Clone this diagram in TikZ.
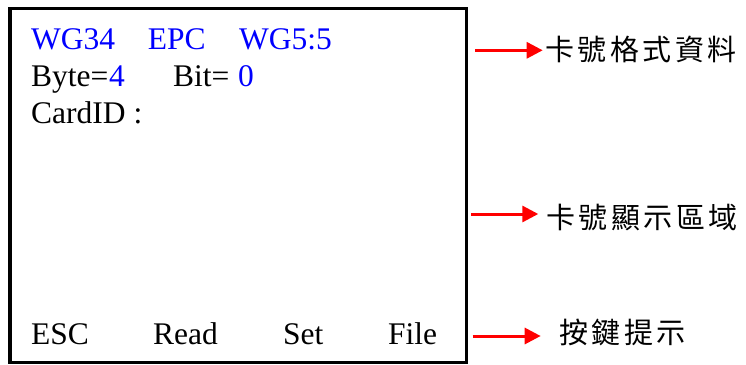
\documentclass[tikz,border=0pt]{standalone}
\usepackage{fontspec}
\setmainfont{Liberation Serif}
\newfontfamily\cjkwide[LetterSpace=12]{Noto Sans CJK TC}
\usetikzlibrary{arrows.meta}
\definecolor{lcdblue}{RGB}{0,0,255}
\definecolor{arrowred}{RGB}{255,0,0}
\tikzset{
  screen/.style={draw=black,line width=3.2pt,fill=white,outer sep=0pt},
  lcd/.style={anchor=base west,inner sep=0pt,font=\fontsize{31.5}{31.5}\selectfont},
  lcdb/.style={lcd,text=lcdblue},
  note/.style={anchor=base west,inner sep=0pt,font=\fontsize{29}{29}\selectfont\cjkwide},
  pointer/.style={draw=arrowred,line width=3pt,-{Triangle[length=16pt,width=16pt,fill=arrowred]}}
}
\begin{document}
\begin{tikzpicture}[x=1pt,y=-1pt]
\useasboundingbox (0,0) rectangle (746,364);
\node[screen,minimum width=456.5pt,minimum height=353.8pt,anchor=north west,inner sep=0pt] (screen) at (10,8.5) {};
\node[lcdb] (t1) at (31,49.3) {WG34};
\node[lcdb] (t2) at (147.7,49.3) {EPC};
\node[lcdb] (t3) at (239,49.3) {WG5:5};
\node[lcd] (t4) at (31,86) {Byte=};
\node[lcdb] (t5) at (109,86) {4};
\node[lcd] (t6) at (173,86) {Bit=};
\node[lcdb] (t7) at (238,86) {0};
\node[lcd] (t8) at (31,123) {CardID :};
\node[lcd] (k1) at (31,344) {ESC};
\node[lcd] (k2) at (153,344) {Read};
\node[lcd] (k3) at (283,344) {Set};
\node[lcd] (k4) at (388,344) {File};
\node[note] (n1) at (545,60.5) {卡號格式資料};
\node[note] (n2) at (546,228) {卡號顯示區域};
\node[note] (n3) at (559,343) {按鍵提示};
\coordinate (a1) at (475,50.3);
\coordinate (b1) at (542.7,50.3);
\coordinate (a2) at (471,214);
\coordinate (b2) at (538.3,214);
\coordinate (a3) at (472.7,336);
\coordinate (b3) at (540.7,336);
\draw[pointer] (a1) -- (b1);
\draw[pointer] (a2) -- (b2);
\draw[pointer] (a3) -- (b3);
\end{tikzpicture}
\end{document}
